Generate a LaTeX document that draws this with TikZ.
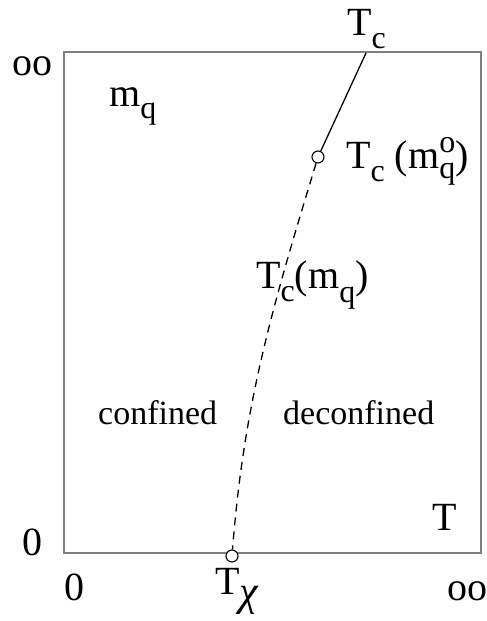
\documentclass[tikz,border=0pt]{standalone}
\usepackage{fontspec}
\setmainfont{Liberation Serif}
\newcommand\lsb[2][13pt]{\raisebox{-#1}{\fontsize{32}{32}\selectfont #2}}
\newcommand\lsbsp[2]{{\fontsize{32}{32}\selectfont\rlap{\raisebox{16pt}{#2}}\raisebox{-10pt}{#1}}}
\tikzset{
  lbl/.style={anchor=base west, inner sep=0pt, font=\fontsize{40}{40}\selectfont},
  reg/.style={anchor=base west, inner sep=0pt, font=\fontsize{34}{34}\selectfont},
  dot/.style={circle, draw=black, fill=white, line width=1.1pt, minimum size=12pt, inner sep=0pt},
  frame/.style={draw=black!50, line width=1.4pt},
  curve/.style={line width=1.3pt, dash pattern=on 8pt off 6pt},
}
\begin{document}
\begin{tikzpicture}[x=1pt,y=-1pt]
\useasboundingbox (0,0) rectangle (487,621);
\draw[frame] (64,52) rectangle (481,553);
\coordinate (top) at (366,53);
\node[dot] (ctop) at (318,157) {};
\node[dot] (cbot) at (232,556) {};
\draw[line width=1.3pt] (top) -- (ctop);
\draw[curve] (ctop) .. controls (272,308) and (244,403) .. (cbot);
\node[lbl] (tc) at (347,35) {T\lsb{c}};
\node[lbl] (inf1) at (12,75) {oo};
\node[lbl] (mq) at (109,106) {m\lsb[12pt]{q}};
\node[lbl] (tco) at (346,168) {T\lsb{c} (m\lsbsp{q}{o})};
\node[lbl] (tcm) at (256,288) {T\lsb{c}(m\lsb[14pt]{q})};
\node[reg] (conf) at (98,424) {confined};
\node[reg] (deconf) at (283,424) {deconfined};
\node[lbl] (T) at (432,530) {T};
\node[lbl] (zero1) at (22,555) {0};
\node[lbl] (zero2) at (64,600) {0};
\node[lbl] (tchi) at (215,594) {T\raisebox{-11pt}{\fontsize{42}{42}\selectfont\itshape χ}};
\node[lbl] (inf2) at (447,600) {oo};
\end{tikzpicture}
\end{document}
